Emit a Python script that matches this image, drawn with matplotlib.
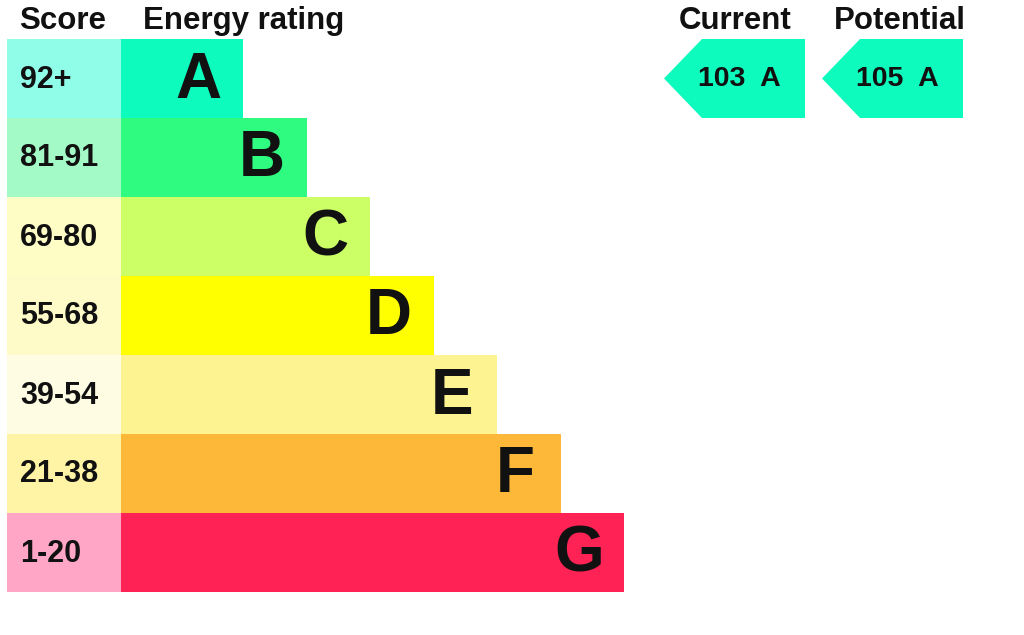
import matplotlib.pyplot as plt
from matplotlib.patches import Rectangle, Polygon

plt.rcParams['font.family'] = ['Liberation Sans', 'DejaVu Sans']

# data
bands = ['A', 'B', 'C', 'D', 'E', 'F', 'G']
score_ranges = ['92+', '81-91', '69-80', '55-68', '39-54', '21-38', '1-20']
bar_colors = ['#0dfcbe', '#2efb7f', '#ccff66', '#ffff00', '#fdf391', '#fdb739', '#ff2255']
score_colors = ['#8ffde8', '#a4fac6', '#fffdc6', '#fffbc8', '#fffce4', '#fff4a6', '#ffa6c6']
current_score = 103
current_band = 'A'
potential_score = 105
potential_band = 'A'

fig = plt.figure(figsize=(10.24, 6.35), dpi=100)
ax = fig.add_axes([0, 0, 1, 1])
ax.set_xlim(0, 1024)
ax.set_ylim(635, 0)
ax.axis('off')

# layout (pixels)
top = 39
row_h = 79
score_x0, score_x1 = 7, 121
bar_w0, bar_step = 122, 63.5

for i, (b, rng) in enumerate(zip(bands, score_ranges)):
    y0 = top + i * row_h
    ax.add_patch(Rectangle((score_x0, y0), score_x1 - score_x0, row_h,
                           facecolor=score_colors[i], edgecolor='none'))
    right = score_x1 + bar_w0 + i * bar_step
    ax.add_patch(Rectangle((score_x1, y0), right - score_x1, row_h,
                           facecolor=bar_colors[i], edgecolor='none'))
    ax.text(20, y0 + row_h / 2 + 1, rng, ha='left', va='center',
            fontsize=22, fontweight='bold', color='#111111')
    ax.text(right - 45, y0 + row_h / 2 + 2, b, ha='center', va='center',
            fontsize=46, fontweight='bold', color='#111111')

# headers
hdr = dict(fontsize=22.5, fontweight='bold', color='#111111', va='center')
ax.text(63, 21, 'Score', ha='center', **hdr)
ax.text(143, 21, 'Energy rating', ha='left', **hdr)
ax.text(735, 21, 'Current', ha='center', **hdr)
ax.text(900, 21, 'Potential', ha='center', **hdr)

# arrows
def arrow(x_tip, x_right, score, band):
    y0, y1 = top, top + row_h
    ym = (y0 + y1) / 2
    x_sh = x_tip + 38
    poly = Polygon([(x_tip, ym), (x_sh, y0), (x_right, y0), (x_right, y1), (x_sh, y1)],
                   closed=True, facecolor=bar_colors[bands.index(band)], edgecolor='none')
    ax.add_patch(poly)
    ax.text((x_tip + x_right) / 2 + 5, ym + 1, '{}  {}'.format(score, band),
            ha='center', va='center', fontsize=20.5, fontweight='bold', color='#111111')

arrow(664, 805, current_score, current_band)
arrow(822, 963, potential_score, potential_band)

fig.savefig('out.png', dpi=100, facecolor='white')
